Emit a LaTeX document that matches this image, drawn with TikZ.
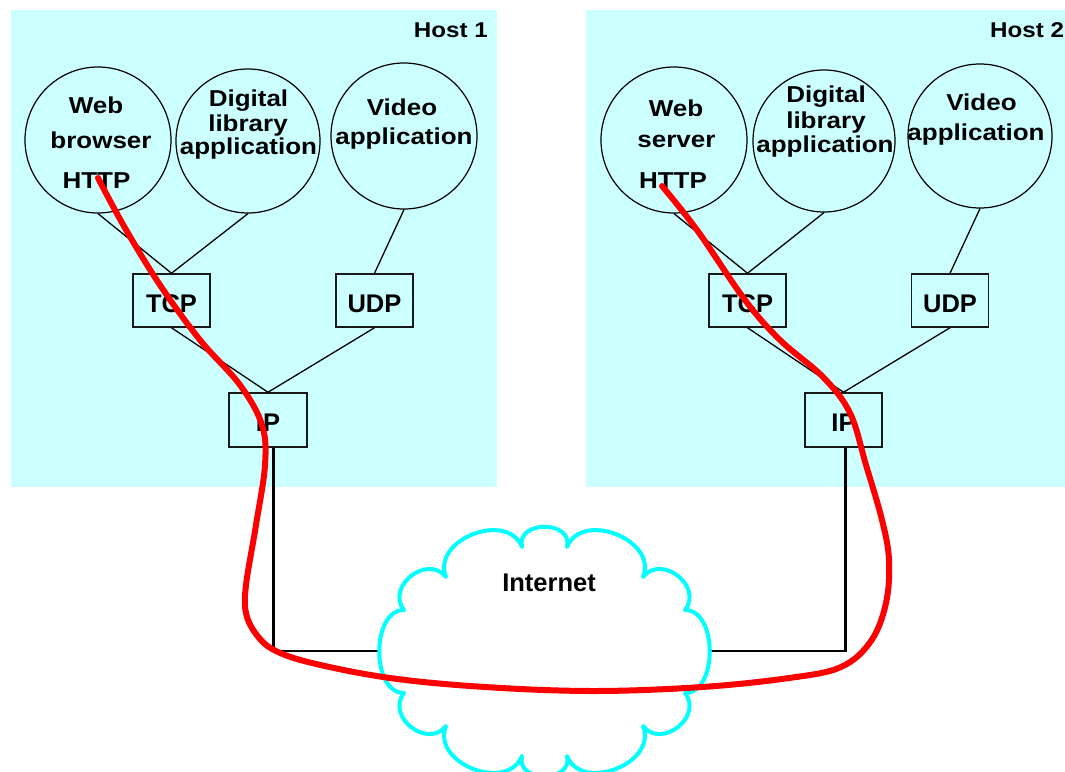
\documentclass[tikz,border=0pt]{standalone}
\usepackage{fontspec}
\setmainfont{Liberation Sans}
\newfontfamily\widesans{Liberation Sans}[FakeStretch=1.13]
\usetikzlibrary{calc}

\definecolor{hostbg}{HTML}{CCFFFF}
\definecolor{cloudline}{HTML}{00FFFF}

\begin{document}
\begin{tikzpicture}[x=1pt,y=-1pt,
  hostpanel/.style={fill=hostbg, draw=none},
  hostname/.style={inner sep=0pt, font=\widesans\bfseries\fontsize{21.4}{21.4}\selectfont},
  app/.style={circle, draw=black, line width=1.2pt, minimum size=#1, inner sep=0pt},
  applabel/.style={anchor=base, inner sep=0pt, font=\widesans\bfseries\fontsize{23}{23}\selectfont},
  proto/.style={draw=black!90, line width=1.5pt, minimum width=77pt, minimum height=53pt,
    inner sep=0pt, text height=23pt, text depth=0pt,
    font=\bfseries\fontsize{25.5}{25.5}\selectfont},
  wire/.style={draw=black, line width=1.3pt},
  link/.style={draw=black, line width=2.4pt},
  netcloud/.style={draw=cloudline, line width=4pt, fill=white, line join=round},
  route/.style={draw=red, line width=6pt, line cap=round, line join=round}]

\useasboundingbox (0,0) rectangle (1065,771);
\clip (0,0) rectangle (1065,771);

% host panels
\fill[hostpanel] (11,10) rectangle (497,487);
\fill[hostpanel] (586,10) rectangle (1075,487);
\node[hostname, anchor=base east] (host1) at (488,37.5) {Host 1};
\node[hostname, anchor=base west] (host2) at (990,37) {Host 2};

% applications of host 1
\node[app=146pt] (c11) at (98,140) {};
\node[app=144pt] (c12) at (248,141) {};
\node[app=146pt] (c13) at (404,136) {};
% applications of host 2
\node[app=146pt] (c21) at (674,140) {};
\node[app=142pt] (c22) at (824,141) {};
\node[app=144pt] (c23) at (980,136) {};

% protocol boxes
\node[proto] (tcp1) at (171.5,300.5) {TCP};
\node[proto] (udp1) at (374.5,300.5) {UDP};
\node[proto, minimum width=78pt, minimum height=54pt] (ip1) at (268,420) {IP};
\node[proto] (tcp2) at (747.5,300.5) {TCP};
\node[proto] (udp2) at (950,300.5) {UDP};
\node[proto, minimum width=77pt, minimum height=54pt] (ip2) at (843.5,420) {IP};

% stack connections
\draw[wire] (c11.south) -- (tcp1.north);
\draw[wire] (c12.south) -- (tcp1.north);
\draw[wire] (c13.south) -- (udp1.north);
\draw[wire] (tcp1.south) -- (ip1.north);
\draw[wire] (udp1.south) -- (ip1.north);
\draw[wire] (c21.south) -- (tcp2.north);
\draw[wire] (c22.south) -- (tcp2.north);
\draw[wire] (c23.south) -- (udp2.north);
\draw[wire] (tcp2.south) -- (ip2.north);
\draw[wire] (udp2.south) -- (ip2.north);

% application texts, host 1
\node[applabel] (t11a) at (96,113) {Web};
\node[applabel] (t11b) at (101,148) {browser};
\node[applabel] (t11c) at (96.5,188) {HTTP};
\node[applabel] (t12a) at (248.5,106) {Digital};
\node[applabel] (t12b) at (248,131) {library};
\node[applabel] (t12c) at (248.5,154) {application};
\node[applabel] (t13a) at (402,115) {Video};
\node[applabel] (t13b) at (404,144) {application};
% application texts, host 2
\node[applabel] (t21a) at (676,116) {Web};
\node[applabel] (t21b) at (676.5,147) {server};
\node[applabel] (t21c) at (673,188) {HTTP};
\node[applabel] (t22a) at (826,102) {Digital};
\node[applabel] (t22b) at (826,128) {library};
\node[applabel] (t22c) at (825,152) {application};
\node[applabel] (t23a) at (981.5,110) {Video};
\node[applabel] (t23b) at (976,140) {application};

% attachment points on the cloud
\coordinate (inetW) at (382,651);
\coordinate (inetE) at (707,651);

% access links
\draw[link] ($(ip1.south)+(5.5,0)$) |- (inetW);
\draw[link] ($(ip2.south)+(2,0)$) |- (inetE);

% the Internet cloud
\begin{scope}[shift={(544.5,651.5)}]
\draw[netcloud] (-22.5,-104.5)
  .. controls (-29,-131.5) and (29,-131.5) .. (22.5,-104.5)
  .. controls (37.5,-141.5) and (113.5,-111.5) .. (98.5,-74.5)
  .. controls (117,-98) and (159,-65) .. (140.5,-41.5)
  .. controls (173.5,-41.5) and (173.5,41.5) .. (140.5,41.5)
  .. controls (159,65) and (117,98) .. (98.5,74.5)
  .. controls (113.5,111.5) and (37.5,141.5) .. (22.5,104.5)
  .. controls (29,131.5) and (-29,131.5) .. (-22.5,104.5)
  .. controls (-37.5,141.5) and (-113.5,111.5) .. (-98.5,74.5)
  .. controls (-117,98) and (-159,65) .. (-140.5,41.5)
  .. controls (-173.5,41.5) and (-173.5,-41.5) .. (-140.5,-41.5)
  .. controls (-159,-65) and (-117,-98) .. (-98.5,-74.5)
  .. controls (-113.5,-111.5) and (-37.5,-141.5) .. (-22.5,-104.5) -- cycle;
\end{scope}
\node[anchor=base, inner sep=0pt, font=\bfseries\fontsize{25.5}{25.5}\selectfont] (inet) at (549,591) {Internet};

% HTTP conversation path between the two hosts
\draw[route] plot[smooth, tension=0.6] coordinates {
  (98,178) (125,228) (160,285) (200,340) (240,385)
  (262,425) (265,465) (256,525) (246,585) (246,613)
  (256,634) (274,650) (312,663) (390,678) (485,687)
  (594,691) (702,687) (789,678) (841,667) (871,641)
  (886,603) (889,560) (882,520) (866,465)
  (850,413) (823,377) (780,340) (745,300) (697,230) (662,186)};

\end{tikzpicture}
\end{document}
